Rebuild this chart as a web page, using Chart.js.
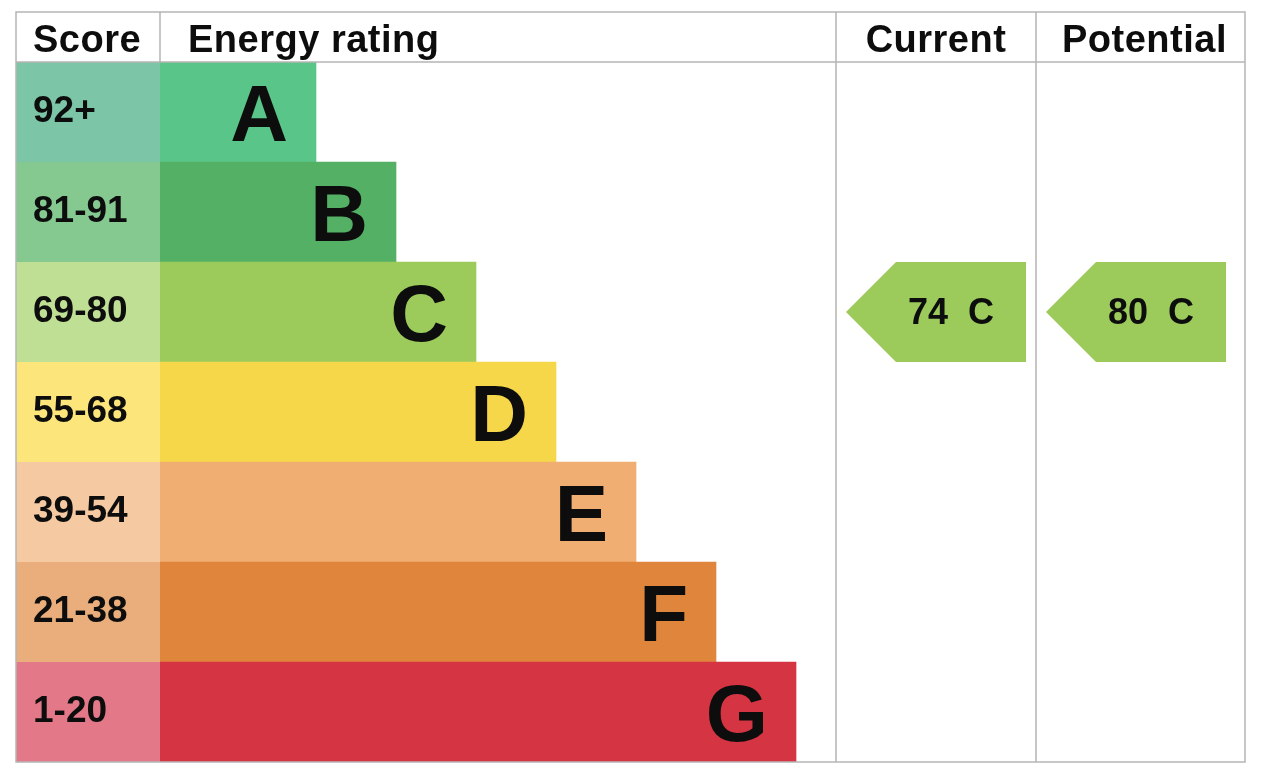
<!DOCTYPE html>
<html>
<head>
<meta charset="utf-8">
<title>Energy rating</title>
<script src="https://cdn.jsdelivr.net/npm/chart.js@4"></script>
<style>
  html, body { margin: 0; padding: 0; background: #fff; }
  canvas { display: block; }
</style>
</head>
<body>
<canvas id="epc" width="1262" height="776"></canvas>
<script>
// bands, top to bottom
const bands = ['A', 'B', 'C', 'D', 'E', 'F', 'G'];
const scoreRanges = ['92+', '81-91', '69-80', '55-68', '39-54', '21-38', '1-20'];
const bandMinScores = [92, 81, 69, 55, 39, 21, 1];
const bandLengths = [2, 3, 4, 5, 6, 7, 8];
const barColors = ['#5ac588', '#53b064', '#9ccb5b', '#f7d74a', '#f0ae72', '#df853c', '#d53443'];
const scoreColors = ['#7cc6a7', '#85c991', '#bfdf95', '#fce57a', '#f5c9a2', '#e9ae7b', '#e27888'];

const currentScore = 74;
const potentialScore = 80;

const FONT = "'Liberation Sans', Arial, Helvetica, sans-serif";
const LINE = '#b5b5b5';

function bandFor(score) {
  for (let i = 0; i < bandMinScores.length; i++) {
    if (score >= bandMinScores[i]) return i;
  }
  return bandMinScores.length - 1;
}

const epcTable = {
  id: 'epcTable',
  beforeDatasetsDraw(chart) {
    const { ctx, chartArea: a, scales: { y } } = chart;
    const scoreLeft = a.left - 144;
    ctx.save();
    bands.forEach((b, i) => {
      const yc = y.getPixelForValue(i);
      ctx.fillStyle = scoreColors[i];
      ctx.fillRect(scoreLeft, yc - 50, a.left - scoreLeft, 100);
    });
    ctx.restore();
  },
  afterDatasetsDraw(chart) {
    const { ctx, chartArea: a, scales: { x, y } } = chart;
    const scoreLeft = a.left - 144;
    const top = a.top - 50;
    const colCur = x.getPixelForValue(8.5);
    const colPot = x.getPixelForValue(11.0);
    ctx.save();

    // band letters + score labels
    const meta = chart.getDatasetMeta(0);
    meta.data.forEach((bar, i) => {
      ctx.fillStyle = '#0c0d0c';
      ctx.textAlign = 'right';
      ctx.textBaseline = 'alphabetic';
      ctx.font = 'bold 80px ' + FONT;
      ctx.fillText(bands[i], bar.x - 28, bar.y + 29);
      ctx.textAlign = 'left';
      ctx.font = 'bold 37px ' + FONT;
      ctx.fillText(scoreRanges[i], scoreLeft + 17, bar.y + 10);
    });

    // current / potential arrows
    [[currentScore, colCur], [potentialScore, colPot]].forEach(([score, colLeft]) => {
      const bi = bandFor(score);
      const yc = y.getPixelForValue(bi);
      const h = 100;
      const left = colLeft + 10, right = left + 180;
      ctx.fillStyle = barColors[bi];
      ctx.beginPath();
      ctx.moveTo(left, yc);
      ctx.lineTo(left + h / 2, yc - h / 2);
      ctx.lineTo(right, yc - h / 2);
      ctx.lineTo(right, yc + h / 2);
      ctx.lineTo(left + h / 2, yc + h / 2);
      ctx.closePath();
      ctx.fill();
      ctx.fillStyle = '#0c0d0c';
      ctx.font = 'bold 36px ' + FONT;
      ctx.textAlign = 'right';
      ctx.textBaseline = 'alphabetic';
      ctx.fillText(score + '  ' + bands[bi], right - 32, yc + 12);
    });

    // grid lines
    ctx.strokeStyle = LINE;
    ctx.lineWidth = 1.5;
    ctx.beginPath();
    ctx.rect(scoreLeft, top, a.right - scoreLeft, a.bottom - top);
    ctx.moveTo(scoreLeft, a.top); ctx.lineTo(a.right, a.top);
    ctx.moveTo(a.left, top); ctx.lineTo(a.left, a.top);
    ctx.moveTo(colCur, top); ctx.lineTo(colCur, a.bottom);
    ctx.moveTo(colPot, top); ctx.lineTo(colPot, a.bottom);
    ctx.stroke();

    // header
    ctx.fillStyle = '#0c0d0c';
    ctx.font = 'bold 38px ' + FONT;
    ctx.letterSpacing = '0.5px';
    ctx.textBaseline = 'alphabetic';
    ctx.textAlign = 'left';
    ctx.fillText('Score', scoreLeft + 17, top + 40);
    ctx.fillText('Energy rating', a.left + 28, top + 40);
    ctx.textAlign = 'center';
    ctx.fillText('Current', (colCur + colPot) / 2, top + 40);
    ctx.fillText('Potential', (colPot + a.right) / 2 + 4, top + 40);
    ctx.restore();
  }
};

new Chart(document.getElementById('epc'), {
  type: 'bar',
  data: {
    labels: bands,
    datasets: [{
      data: bandLengths,
      backgroundColor: barColors,
      borderWidth: 0,
      barPercentage: 1,
      categoryPercentage: 1
    }]
  },
  options: {
    indexAxis: 'y',
    responsive: false,
    animation: false,
    devicePixelRatio: 1,
    layout: { padding: { left: 160, top: 62, right: 17, bottom: 14 } },
    plugins: { legend: { display: false }, tooltip: { enabled: false } },
    scales: {
      x: { type: 'linear', min: 0.05, max: 13.6125, display: false },
      y: { display: false }
    }
  },
  plugins: [epcTable]
});
</script>
</body>
</html>
